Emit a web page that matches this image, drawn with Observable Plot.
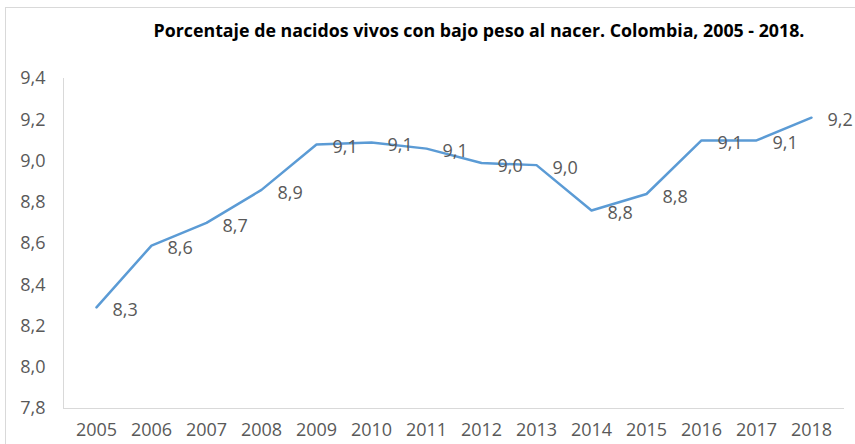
<!DOCTYPE html>
<html>
<head>
<meta charset="utf-8">
<script src="https://cdn.jsdelivr.net/npm/d3@7"></script>
<script src="https://cdn.jsdelivr.net/npm/@observablehq/plot@0.6"></script>
<style>
  html, body { margin: 0; padding: 0; background: #fff; overflow: hidden; }
  #wrap { position: relative; width: 855px; height: 444px; overflow: hidden; }
  #border { position: absolute; left: 5px; top: 7px; width: 900px; height: 500px; border: 1px solid #d9d9d9; box-sizing: border-box; }
  #title { position: absolute; top: 18px; left: 0; width: 958px; text-align: center; font-family: "Open Sans", sans-serif; font-weight: 700; font-size: 17.8px; color: #000; white-space: nowrap; }
  #chart { position: absolute; left: 0; top: 48px; }
</style>
</head>
<body>
<div id="wrap">
  <div id="border"></div>
  <div id="title">Porcentaje de nacidos vivos con bajo peso al nacer. Colombia, 2005 - 2018.</div>
  <div id="chart"></div>
</div>
<script>
const years = ["2005","2006","2007","2008","2009","2010","2011","2012","2013","2014","2015","2016","2017","2018"];
const values = [8.29, 8.59, 8.70, 8.86, 9.08, 9.09, 9.06, 8.99, 8.98, 8.76, 8.84, 9.10, 9.10, 9.21];
const yTicks = [7.8, 8.0, 8.2, 8.4, 8.6, 8.8, 9.0, 9.2, 9.4];

const data = years.map((y, i) => ({year: y, value: values[i]}));
const fmt = d => d.toFixed(1).replace(".", ",");

const chart = Plot.plot({
  width: 855,
  height: 396,
  marginLeft: 63,
  marginRight: 12,
  marginTop: 30,
  marginBottom: 36,
  style: {fontFamily: "'Open Sans', sans-serif", fontSize: "18px", color: "#595959", background: "transparent"},
  x: {type: "point", domain: years, padding: 0.5, label: null},
  y: {domain: [7.8, 9.4], label: null},
  marks: [
    Plot.frame({anchor: "left", stroke: "#d9d9d9", strokeOpacity: 1}),
    Plot.frame({anchor: "bottom", stroke: "#d9d9d9", strokeOpacity: 1}),
    Plot.axisY(yTicks, {tickSize: 0, tickPadding: 18, tickFormat: fmt, fill: "#595959", fontSize: 18}),
    Plot.axisX(years, {tickSize: 0, tickPadding: 15, fill: "#595959", fontSize: 18}),
    Plot.line(data, {x: "year", y: "value", stroke: "#5B9BD5", strokeWidth: 2.5}),
    Plot.text(data, {x: "year", y: "value", text: d => fmt(d.value), textAnchor: "start", dx: 16, dy: 3, fill: "#595959", fontSize: 18})
  ]
});
document.getElementById("chart").appendChild(chart);
</script>
</body>
</html>
